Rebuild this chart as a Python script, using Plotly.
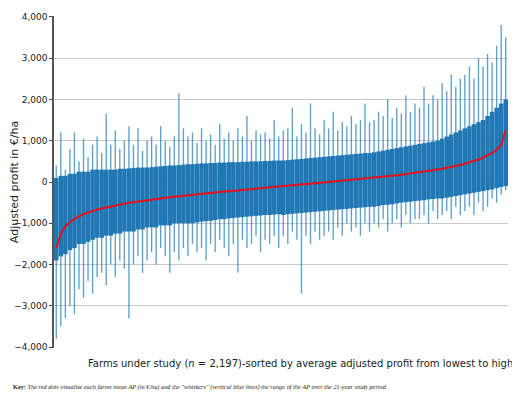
import plotly.graph_objects as go

N_FARMS = 2197

# mean adjusted profit (EUR/ha), farms binned into 100 groups
mean_ap = [-1600, -1250, -1080, -970, -890, -830, -780, -740, -700, -670,
           -640, -615, -590, -565, -545, -525, -505, -488, -470, -455,
           -440, -425, -410, -397, -384, -371, -358, -346, -334, -322,
           -310, -298, -287, -276, -265, -254, -243, -232, -221, -210,
           -200, -190, -180, -170, -160, -150, -140, -130, -120, -110,
           -100, -90, -80, -70, -60, -50, -40, -30, -20, -10,
           0, 10, 20, 30, 40, 50, 60, 70, 80, 92,
           104, 116, 128, 140, 152, 165, 178, 191, 205, 220,
           235, 250, 266, 283, 300, 320, 340, 360, 385, 410,
           440, 470, 505, 545, 590, 640, 700, 780, 900, 1250]

# whisker extremes (min / max AP over the study period)
ap_max = [400, 1200, 300, 800, 1200, 500, 1050, 600, 900, 1100,
          700, 1650, 900, 1250, 800, 1000, 1350, 900, 1300, 750,
          1000, 1100, 900, 1350, 1000, 850, 1100, 2150, 1300, 1100,
          1200, 950, 1300, 1000, 1150, 900, 1400, 1050, 1200, 1000,
          1300, 1100, 1600, 1000, 1250, 1150, 1200, 1050, 1500, 1100,
          1250, 1300, 1800, 1100, 1400, 1200, 1900, 1300, 1150, 1500,
          1300, 1700, 1250, 1450, 1350, 1600, 1400, 1500, 1900, 1450,
          1500, 1700, 1600, 2000, 1550, 1800, 1650, 2100, 1700, 1900,
          1800, 2300, 1900, 2100, 2000, 2400, 2200, 2600, 2300, 2500,
          2600, 2800, 2500, 3000, 2800, 3100, 2900, 3300, 3800, 3500]
ap_min = [-3800, -3500, -3300, -3000, -3200, -2600, -2800, -2400, -2700, -2300,
          -2200, -2500, -2000, -2300, -1900, -2100, -3300, -2000, -1800, -2200,
          -1900, -1700, -2000, -1600, -1800, -2200, -1700, -1900, -1600, -1800,
          -1500, -1700, -1600, -1900, -1500, -1700, -1400, -1600, -1800, -1500,
          -2200, -1400, -1600, -1500, -1300, -1700, -1400, -1500, -1300, -1600,
          -1300, -1500, -1200, -1400, -2700, -1300, -1500, -1200, -1400, -1300,
          -1200, -1400, -1100, -1300, -1000, -1200, -1100, -1300, -1000, -1200,
          -1000, -1100, -900, -1200, -1000, -900, -1100, -800, -1000, -900,
          -900, -800, -1000, -700, -900, -800, -700, -900, -600, -800,
          -700, -600, -800, -500, -700, -600, -400, -500, -300, -200]

# dense part of the whiskers (where most farms' ranges overlap)
band_low = [-1900, -1800, -1750, -1650, -1600, -1500, -1500, -1450, -1400, -1350,
            -1350, -1300, -1300, -1250, -1250, -1200, -1200, -1200, -1150, -1150,
            -1100, -1100, -1100, -1050, -1050, -1050, -1000, -1000, -1000, -1000,
            -1000, -980, -960, -950, -940, -920, -900, -900, -880, -870,
            -860, -850, -840, -830, -820, -810, -800, -800, -790, -780,
            -800, -780, -770, -760, -750, -740, -730, -720, -710, -700,
            -690, -680, -670, -660, -650, -640, -630, -620, -610, -600,
            -600, -580, -560, -550, -540, -520, -500, -490, -480, -460,
            -450, -440, -420, -410, -400, -400, -380, -360, -340, -320,
            -300, -280, -260, -240, -220, -200, -180, -150, -120, -100]
band_high = [100, 150, 150, 200, 200, 250, 250, 250, 300, 300,
             300, 300, 300, 300, 320, 320, 330, 340, 350, 350,
             350, 360, 370, 380, 390, 400, 400, 410, 420, 430,
             430, 440, 450, 450, 460, 460, 470, 470, 480, 480,
             480, 490, 490, 500, 500, 500, 510, 510, 520, 520,
             520, 530, 540, 550, 560, 570, 580, 590, 600, 610,
             620, 630, 640, 650, 660, 670, 680, 690, 700, 700,
             720, 740, 760, 780, 800, 820, 840, 860, 880, 900,
             920, 940, 960, 980, 1000, 1050, 1100, 1150, 1200, 1250,
             1300, 1350, 1400, 1450, 1500, 1600, 1700, 1800, 1900, 2000]

BLUE = "#1f77b4"
step = N_FARMS / len(mean_ap)
x_pos = [step * (i + 0.5) for i in range(len(mean_ap))]

fig = go.Figure()
fig.add_trace(go.Bar(
    x=x_pos, base=ap_min, y=[h - l for h, l in zip(ap_max, ap_min)],
    width=step * 0.3, marker=dict(color="rgba(31,119,180,0.7)", line=dict(width=0)),
    hoverinfo="skip",
))
fig.add_trace(go.Bar(
    x=x_pos, base=band_low, y=[h - l for h, l in zip(band_high, band_low)],
    width=step, marker=dict(color=BLUE, line=dict(width=0)),
    hoverinfo="skip",
))
fig.add_trace(go.Scatter(
    x=x_pos, y=mean_ap, mode="lines", line=dict(color="#e8101a", width=2),
))

fig.update_layout(
    width=504, height=390,
    margin=dict(l=46, r=4, t=8, b=50),
    plot_bgcolor="white", paper_bgcolor="white",
    showlegend=False, barmode="overlay",
    font=dict(family="DejaVu Sans", size=9, color="#222"),
    xaxis=dict(range=[0, N_FARMS], showticklabels=False, showgrid=False,
               zeroline=False, ticks="", automargin=False),
    yaxis=dict(range=[-4020, 4020], tickvals=[-4000, -3000, -2000, -1000, 0, 1000, 2000, 3000, 4000],
               tickformat=",", showgrid=True, gridcolor="#c8c8c8", zeroline=False,
               showline=True, linecolor="#555", linewidth=1.5, ticks="outside", ticklen=3,
               automargin=False,
               title=dict(text="Adjusted profit in €/ha", font=dict(size=11), standoff=2)),
    annotations=[
        dict(text="Farms under study (<i>n</i> = 2,197)-sorted by average adjusted profit from lowest to highest",
             xref="paper", yref="paper", x=0.56, y=-0.025, yanchor="top", showarrow=False,
             font=dict(size=10)),
        dict(text="<b>Key:</b> <i>The red dots visualize each farms mean AP (in €/ha) and the \"whiskers\" (vertical blue lines) the range of the AP over the 21-year study period</i>",
             xref="paper", yref="paper", x=-0.095, xanchor="left", y=-0.1, yanchor="top",
             showarrow=False, font=dict(size=6.3, family="Liberation Serif")),
    ],
)

fig.write_html("out.html")
